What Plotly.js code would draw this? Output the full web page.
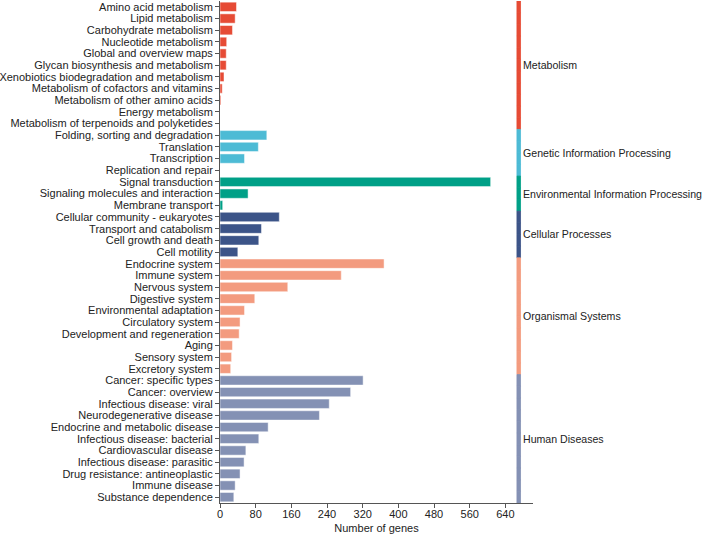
<!DOCTYPE html>
<html>
<head>
<meta charset="utf-8">
<script src="https://cdn.plot.ly/plotly-3.0.1.min.js"></script>
<style>html,body{margin:0;padding:0;background:#fff;}#chart{width:708px;height:536px;}</style>
</head>
<body>
<div id="chart"></div>
<script>
const groupNames = ["Metabolism","Genetic Information Processing","Environmental Information Processing","Cellular Processes","Organismal Systems","Human Diseases"];
const groupColors = ["#E64B35","#4DBBD5","#00A087","#3C5488","#F39B7F","#8491B4"];

const metabolismCats = ["Amino acid metabolism","Lipid metabolism","Carbohydrate metabolism","Nucleotide metabolism","Global and overview maps","Glycan biosynthesis and metabolism","Xenobiotics biodegradation and metabolism","Metabolism of cofactors and vitamins","Metabolism of other amino acids","Energy metabolism","Metabolism of terpenoids and polyketides"];
const metabolismVals = [37,34,28,15,14,14,9,5,2,0,0];

const geneticCats = ["Folding, sorting and degradation","Translation","Transcription","Replication and repair"];
const geneticVals = [105,86,55,0];

const environmentalCats = ["Signal transduction","Signaling molecules and interaction","Membrane transport"];
const environmentalVals = [607,63,6];

const cellularCats = ["Cellular community - eukaryotes","Transport and catabolism","Cell growth and death","Cell motility"];
const cellularVals = [133,93,87,40];

const organismalCats = ["Endocrine system","Immune system","Nervous system","Digestive system","Environmental adaptation","Circulatory system","Development and regeneration","Aging","Sensory system","Excretory system"];
const organismalVals = [368,272,152,78,55,45,43,28,26,24];

const humanCats = ["Cancer: specific types","Cancer: overview","Infectious disease: viral","Neurodegenerative disease","Endocrine and metabolic disease","Infectious disease: bacterial","Cardiovascular disease","Infectious disease: parasitic","Drug resistance: antineoplastic","Immune disease","Substance dependence"];
const humanVals = [321,293,245,223,108,87,58,54,45,34,31];

const xTicks = [0,80,160,240,320,400,480,560,640];

const groupCats = [metabolismCats, geneticCats, environmentalCats, cellularCats, organismalCats, humanCats];
const groupVals = [metabolismVals, geneticVals, environmentalVals, cellularVals, organismalVals, humanVals];

const stripBase = 666, stripWidth = 8, labelX = 676;

const traces = [];
const annotations = [];
let allCats = [];
let startIdx = 0;
groupCats.forEach((cats, g) => {
  allCats = allCats.concat(cats);
  traces.push({
    type: 'bar', orientation: 'h', y: cats, x: groupVals[g],
    width: 0.8,
    marker: {color: groupColors[g], line: {color: 'rgba(255,255,255,0.8)', width: 0.6}},
    hoverinfo: 'x+y', showlegend: false
  });
  traces.push({
    type: 'bar', orientation: 'h', y: cats, x: cats.map(() => stripWidth), base: stripBase,
    width: 1, marker: {color: groupColors[g], line: {color: groupColors[g], width: 0.8}},
    hoverinfo: 'skip', showlegend: false
  });
  annotations.push({
    x: labelX, y: startIdx + (cats.length - 1) / 2, xref: 'x', yref: 'y',
    text: groupNames[g], showarrow: false, xanchor: 'left', yanchor: 'middle',
    font: {size: 10.6, color: '#222'}
  });
  startIdx += cats.length;
});

const layout = {
  width: 708, height: 536,
  margin: {l: 220, r: 175, t: 1, b: 33, pad: 0},
  paper_bgcolor: '#fff', plot_bgcolor: '#fff',
  font: {family: '"Liberation Sans", Arial, sans-serif', size: 11, color: '#222'},
  barmode: 'overlay',
  showlegend: false,
  xaxis: {
    range: [0, 702], tickmode: 'array', tickvals: xTicks, ticktext: xTicks.map(String),
    ticks: 'outside', ticklen: 4, tickcolor: '#555', tickwidth: 1,
    ticklabelstandoff: -3,
    showline: true, linecolor: '#555', linewidth: 1, showgrid: false, zeroline: false,
    tickfont: {size: 11, color: '#222'},
    title: {text: 'Number of genes', font: {size: 11, color: '#222'}, standoff: 5}
  },
  yaxis: {
    type: 'category', categoryorder: 'array', categoryarray: allCats,
    tickmode: 'array', tickvals: allCats, ticktext: allCats,
    range: [allCats.length - 0.5, -0.5],
    ticks: 'outside', ticklen: 4, tickcolor: '#555', tickwidth: 1,
    showline: true, linecolor: '#555', linewidth: 1, showgrid: false, zeroline: false,
    tickfont: {size: 11, color: '#222'}
  },
  annotations: annotations
};

Plotly.newPlot('chart', traces, layout, {displayModeBar: false, staticPlot: true});
</script>
</body>
</html>
